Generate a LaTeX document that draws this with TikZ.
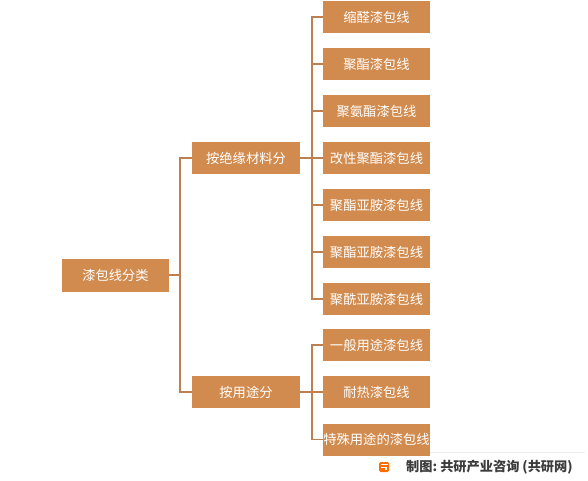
\documentclass[tikz,border=0pt]{standalone}
\usepackage{fontspec}
\setmainfont{Noto Sans CJK SC}
\definecolor{boxfill}{RGB}{210,139,78}
\definecolor{linec}{RGB}{190,128,80}
\definecolor{foot}{RGB}{60,60,60}
\begin{document}
\begin{tikzpicture}[x=1pt,y=-1pt,
  box/.style={draw=none,fill=boxfill,text=white,minimum width=107pt,minimum height=32pt,inner sep=0pt,font=\fontsize{13.3}{15}\selectfont},
  conn/.style={draw=linec,line width=1.2pt}]
\useasboundingbox (0,0) rectangle (588,481);
\fill[white] (0,0) rectangle (588,481);
% root
\node[box,minimum height=33pt] (root) at (115.5,275) {漆包线分类};
% level 1
\node[box,minimum width=108pt] (la) at (246,158) {按绝缘材料分};
\node[box,minimum width=108pt] (lb) at (246,392) {按用途分};
% leaves group a
\node[box] (a1) at (376.5,17) {缩醛漆包线};
\node[box] (a2) at (376.5,64) {聚酯漆包线};
\node[box] (a3) at (376.5,111) {聚氨酯漆包线};
\node[box] (a4) at (376.5,158) {改性聚酯漆包线};
\node[box] (a5) at (376.5,205) {聚酯亚胺漆包线};
\node[box] (a6) at (376.5,252) {聚酯亚胺漆包线};
\node[box] (a7) at (376.5,299) {聚酰亚胺漆包线};
% leaves group b
\node[box] (b1) at (376.5,345) {一般用途漆包线};
\node[box] (b2) at (376.5,392) {耐热漆包线};
\node[box] (b3) at (376.5,439.5) {特殊用途的漆包线};
% connectors
\coordinate (j0) at (180,275);
\coordinate (ja) at (312,158);
\coordinate (jb) at (312,392);
\draw[conn] (root.east) -- (j0);
\draw[conn] (j0) |- (la.west);
\draw[conn] (j0) |- (lb.west);
\draw[conn] (la.east) -- (ja);
\foreach \n in {a1,a2,a3,a4,a5,a6,a7} {\draw[conn] (ja) |- (\n.west);}
\draw[conn] (lb.east) -- (jb);
\foreach \n in {b1,b2,b3} {\draw[conn] (jb) |- (\n.west);}
% footer
\draw[gray!15,line width=1pt] (430,452) -- (585,452);
\node[fill=orange!85!red,rounded corners=1.5pt,minimum size=10pt,inner sep=0pt] (logo) at (384,467) {};
\draw[white,line width=1.2pt] (380.5,464.5) -- (387.5,464.5) (380.5,467.5) -- (386,467.5) -- (386,469.5);
\node[anchor=west,text=foot,inner sep=0pt,font=\fontsize{13.2}{15}\selectfont\bfseries] (src) at (406,467) {制图:~共研产业咨询~(共研网)};
\end{tikzpicture}
\end{document}
